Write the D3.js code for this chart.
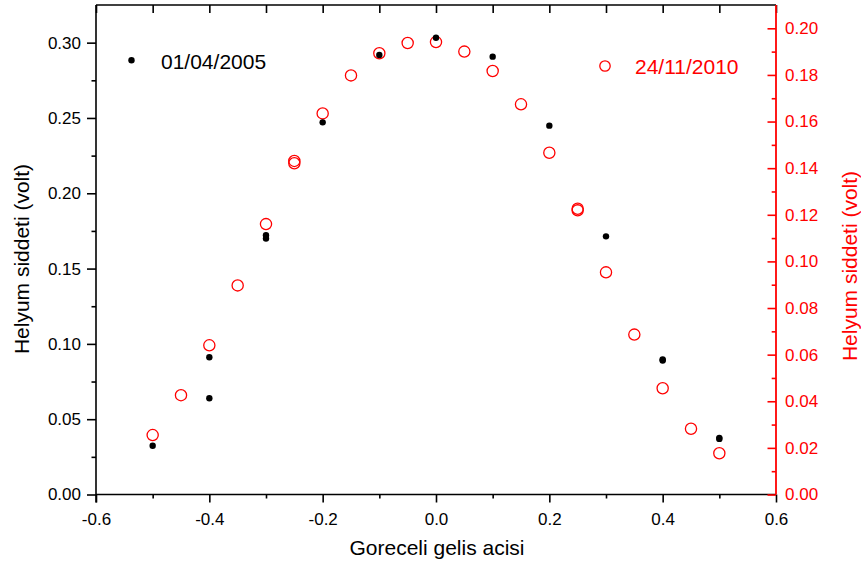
<!DOCTYPE html>
<head>
<meta charset="utf-8">
<title>Helyum siddeti</title>
<style>
	body { margin:0; background:#fff; }
	svg { display:block; font-family:Arial, "Liberation Sans", sans-serif; }
</style>
</head>

<div id="chart"></div>

<script src="https://cdn.jsdelivr.net/npm/d3@7/dist/d3.min.js"></script>

<script>
// series 1 (01/04/2005), left axis
let X_2005 = [-0.5, -0.4, -0.4, -0.3, -0.3, -0.2, -0.1, 0.0, 0.1, 0.2, 0.3, 0.4, 0.4, 0.5, 0.5];
let Y_2005 = [0.0324, 0.0911, 0.0639, 0.1721, 0.1699, 0.2471, 0.2918, 0.3033, 0.2907, 0.2449, 0.1714, 0.0897, 0.0890, 0.0376, 0.0369];

// series 2 (24/11/2010), right axis
let X_2010 = [-0.5, -0.45, -0.4, -0.35, -0.3, -0.25, -0.25, -0.2, -0.15, -0.1, -0.05, 0.0, 0.05, 0.1, 0.15, 0.2, 0.25, 0.25, 0.3, 0.35, 0.4, 0.45, 0.5];
let Y_2010 = [0.0255, 0.0426, 0.0640, 0.0897, 0.1160, 0.1421, 0.1431, 0.1635, 0.1798, 0.1893, 0.1937, 0.1941, 0.1900, 0.1817, 0.1674, 0.1466, 0.1219, 0.1226, 0.0953, 0.0686, 0.0456, 0.0282, 0.0177];

let X_TICKS = [-0.6, -0.4, -0.2, 0.0, 0.2, 0.4, 0.6];
let X_MINOR = [-0.5, -0.3, -0.1, 0.1, 0.3, 0.5];
let YL_TICKS = [0.00, 0.05, 0.10, 0.15, 0.20, 0.25, 0.30];
let YL_MINOR = [0.025, 0.075, 0.125, 0.175, 0.225, 0.275];
let YR_TICKS = [0.00, 0.02, 0.04, 0.06, 0.08, 0.10, 0.12, 0.14, 0.16, 0.18, 0.20];
let YR_MINOR = [0.01, 0.03, 0.05, 0.07, 0.09, 0.11, 0.13, 0.15, 0.17, 0.19];

let LABELS = ["01/04/2005", "24/11/2010"];
let X_TITLE = "Goreceli gelis acisi";
let Y_TITLE = "Helyum siddeti (volt)";

const W = 861, H = 564;
const L = 96, R = 776, T = 5, B = 494.5;
const RED = "#ff0000";

let svg, x, yL, yR;

// Initialize
initChart();


function initChart() {

	svg = d3.select("#chart").append("svg")
		.attr("width", W)
		.attr("height", H);

	x = d3.scaleLinear().domain([-0.6, 0.6]).range([L, R]);
	yL = d3.scaleLinear().domain([0, 0.325]).range([B, T]);
	yR = d3.scaleLinear().domain([0, 0.21]).range([B, T]);

	drawAxes();
	drawPoints();
	drawLegend();

} // @end initChart()



//
// axes, ticks, titles
//
function drawAxes() {

	// top frame with inward ticks
	svg.append("g")
		.attr("transform", "translate(0," + T + ")")
		.call(d3.axisBottom(x).tickValues(X_TICKS.concat(X_MINOR)).tickSize(8).tickFormat(""))
		.call(g => g.select(".domain").remove());
	svg.append("line")
		.attr("x1", L).attr("x2", R).attr("y1", T).attr("y2", T)
		.attr("stroke", "#000").attr("stroke-width", 1.6);

	// bottom axis
	let bx = svg.append("g")
		.attr("transform", "translate(0," + B + ")");
	bx.append("g")
		.call(d3.axisBottom(x).tickValues(X_MINOR).tickSize(4).tickFormat(""))
		.call(g => g.select(".domain").remove());
	bx.append("g")
		.call(d3.axisBottom(x).tickValues(X_TICKS).tickSize(8).tickPadding(10)
			.tickFormat(d => d3.format(".1f")(d).replace("\u2212", "-")))
		.call(g => g.select(".domain").remove())
		.call(g => g.selectAll("text").attr("font-size", 17).attr("fill", "#000")
			.attr("font-family", "Arial, 'Liberation Sans', sans-serif"));
	bx.append("line")
		.attr("x1", L).attr("x2", R)
		.attr("stroke", "#000").attr("stroke-width", 1.6);

	// left axis
	let ly = svg.append("g")
		.attr("transform", "translate(" + L + ",0)");
	ly.append("g")
		.call(d3.axisLeft(yL).tickValues(YL_MINOR).tickSize(4.5).tickFormat(""))
		.call(g => g.select(".domain").remove());
	ly.append("g")
		.call(d3.axisLeft(yL).tickValues(YL_TICKS).tickSize(9).tickPadding(6).tickFormat(d3.format(".2f")))
		.call(g => g.select(".domain").remove())
		.call(g => g.selectAll("text").attr("font-size", 17).attr("fill", "#000")
			.attr("font-family", "Arial, 'Liberation Sans', sans-serif"));
	ly.append("line")
		.attr("y1", T).attr("y2", B + 8)
		.attr("stroke", "#000").attr("stroke-width", 1.6);

	// right axis (red, inward ticks)
	let ry = svg.append("g")
		.attr("transform", "translate(" + R + ",0)");
	ry.append("g")
		.call(d3.axisLeft(yR).tickValues(YR_MINOR).tickSize(4.3).tickFormat(""))
		.call(g => g.select(".domain").remove());
	ry.append("g")
		.call(d3.axisLeft(yR).tickValues(YR_TICKS).tickSize(8.5).tickFormat(""))
		.call(g => g.select(".domain").remove());
	ry.selectAll("line").attr("stroke", RED).attr("stroke-width", 1.6);
	ry.selectAll(".rlabel")
		.data(YR_TICKS)
		.enter().append("text")
		.attr("x", 9)
		.attr("y", d => yR(d))
		.attr("dy", "0.35em")
		.attr("font-size", 17)
		.attr("fill", RED)
		.text(d => d3.format(".2f")(d));
	ry.append("line")
		.attr("y1", T).attr("y2", B)
		.attr("stroke", RED).attr("stroke-width", 1.8);

	svg.selectAll(".tick line").attr("stroke-width", 1.6);

	// titles
	svg.append("text")
		.attr("x", (L + R) / 2 + 1)
		.attr("y", 555)
		.attr("text-anchor", "middle")
		.attr("font-size", 21)
		.text(X_TITLE);

	svg.append("text")
		.attr("transform", "translate(29,259) rotate(-90)")
		.attr("text-anchor", "middle")
		.attr("font-size", 21)
		.text(Y_TITLE);

	svg.append("text")
		.attr("transform", "translate(857,266) rotate(-90)")
		.attr("text-anchor", "middle")
		.attr("font-size", 21)
		.attr("fill", RED)
		.text(Y_TITLE);

} // @end drawAxes()



//
// scatter points
//
function drawPoints() {

	svg.append("g").selectAll("circle")
		.data(d3.zip(X_2010, Y_2010))
		.enter().append("circle")
		.attr("cx", d => x(d[0]))
		.attr("cy", d => yR(d[1]))
		.attr("r", 5.6)
		.attr("fill", "none")
		.attr("stroke", RED)
		.attr("stroke-width", 1.3);

	svg.append("g").selectAll("circle")
		.data(d3.zip(X_2005, Y_2005))
		.enter().append("circle")
		.attr("cx", d => x(d[0]))
		.attr("cy", d => yL(d[1]))
		.attr("r", 3.2)
		.attr("fill", "#000");

} // @end drawPoints()



//
// legends
//
function drawLegend() {

	svg.append("circle")
		.attr("cx", 131.5).attr("cy", 60.3).attr("r", 3.2)
		.attr("fill", "#000");
	svg.append("text")
		.attr("x", 161).attr("y", 68.5)
		.attr("font-size", 21)
		.text(LABELS[0]);

	svg.append("circle")
		.attr("cx", 605).attr("cy", 66).attr("r", 5.2)
		.attr("fill", "none").attr("stroke", RED).attr("stroke-width", 1.3);
	svg.append("text")
		.attr("x", 635).attr("y", 74)
		.attr("font-size", 21)
		.attr("fill", RED)
		.text(LABELS[1]);

} // @end drawLegend()
</script>
